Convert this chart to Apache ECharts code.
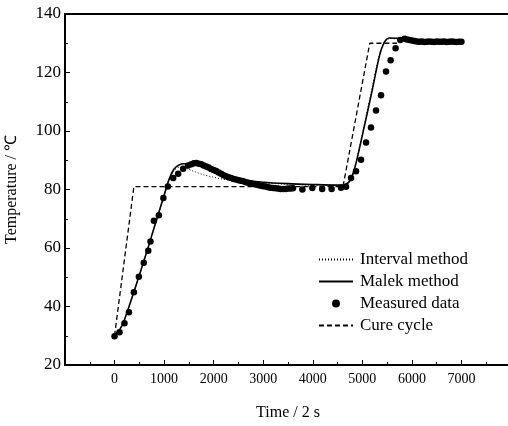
<!DOCTYPE html>
<html>
<head>
<meta charset="utf-8">
<script src="https://cdn.jsdelivr.net/npm/echarts@6/dist/echarts.min.js"></script>
<style>
  html, body { margin: 0; padding: 0; background: #fff; }
  #chart { width: 508px; height: 426px; }
</style>
</head>
<body>
<div id="chart"></div>
<script>
// Time axis (units of 2 s) and temperature readings (°C)
const measuredTime = [
  0, 100, 200, 290, 390, 490, 590, 680, 725, 793, 894, 985, 1075, 1183, 1284, 1385, 1485,
  1550, 1600, 1650, 1700, 1750, 1800, 1850, 1900, 1950, 2000, 2050, 2100, 2150, 2200, 2250,
  2300, 2350, 2400, 2450, 2500, 2550, 2600, 2650, 2700, 2750, 2800, 2850, 2900, 2950, 3000,
  3050, 3100, 3150, 3200, 3250, 3300, 3350, 3400, 3450, 3500, 3550, 3600,
  3790, 3990, 4190, 4380, 4570, 4671, 4772, 4873, 4974, 5075, 5175, 5276, 5377, 5478, 5571,
  5671, 5766, 5853,
  5900, 5950, 6000, 6050, 6100, 6150, 6200, 6250, 6300, 6350, 6400, 6450, 6500, 6550, 6600,
  6650, 6700, 6750, 6800, 6850, 6900, 6950, 7000
];
const measuredTemp = [
  29.8, 31.2, 34.3, 38.0, 44.9, 50.2, 55.0, 59.1, 62.2, 69.3, 71.2, 77.1, 81.0, 83.9, 85.4, 87.1, 88.2,
  88.6, 89.0, 89.1, 88.8, 88.6, 88.2, 87.9, 87.5, 87.0, 86.7, 86.3, 85.8, 85.4, 84.9, 84.5,
  84.2, 83.9, 83.6, 83.4, 83.2, 83.0, 82.8, 82.5, 82.3, 82.1, 81.9, 81.7, 81.5, 81.3, 81.1,
  81.0, 80.8, 80.6, 80.5, 80.4, 80.3, 80.2, 80.2, 80.2, 80.3, 80.3, 80.4,
  80.0, 80.5, 80.2, 80.2, 80.6, 80.9, 83.9, 86.2, 90.2, 96.1, 101.2, 107.0, 112.2, 120.3, 124.2,
  128.3, 131.1, 131.5,
  131.3, 131.1, 130.9, 130.8, 130.6, 130.5, 130.6, 130.4, 130.5, 130.6, 130.5, 130.4, 130.6, 130.5, 130.5,
  130.6, 130.4, 130.5, 130.6, 130.5, 130.4, 130.5, 130.5
];

const malekTime = [0, 100, 200, 400, 600, 800, 1000, 1100, 1200, 1300, 1400, 1600, 1800, 2000, 2200,
  2500, 3000, 3500, 4000, 4500, 4650, 4750, 4850, 5000, 5200, 5350, 5450, 5550, 5700, 5850, 6000, 7000];
const malekTemp = [30.5, 32.0, 35.5, 45.5, 56.0, 67.0, 78.0, 83.5, 87.0, 88.4, 88.8, 88.8, 88.0, 86.6, 85.0,
  83.5, 82.5, 82.0, 81.7, 81.5, 81.7, 83.0, 87.5, 98.5, 114.0, 126.0, 130.5, 131.8, 131.7, 131.2, 130.8, 130.5];

const intervalTime = [0, 100, 200, 400, 600, 800, 1000, 1100, 1200, 1300, 1400, 1600, 1800, 2000, 2200,
  2500, 3000, 3500, 4000, 4600, 4700, 4800, 5000, 5200, 5350, 5450, 5550, 5700, 5850, 6000, 7000];
const intervalTemp = [30.5, 32.0, 35.5, 45.5, 56.0, 67.0, 78.0, 83.0, 86.4, 87.6, 87.5, 86.2, 85.0, 84.2, 83.5,
  83.0, 82.2, 81.8, 81.5, 81.4, 82.0, 84.5, 99.0, 115.0, 126.5, 130.7, 131.6, 131.5, 131.1, 130.8, 130.5];

const cureTime = [0, 390, 4610, 5150, 5700];
const cureTemp = [30.0, 81.0, 81.0, 130.0, 130.0];

const xTicks = { min: -1000, max: 8000, step: 1000 };
const yTicks = { min: 20, max: 140, step: 20 };

const zip = (xs, ys) => xs.map((x, i) => [x, ys[i]]);
const serif = 'Liberation Serif';
const hiddenSymbol = { opacity: 0 };

const chart = echarts.init(document.getElementById('chart'), null, { renderer: 'canvas' });
chart.setOption({
  animation: false,
  backgroundColor: '#ffffff',
  textStyle: { fontFamily: serif, color: '#000' },
  grid: {
    left: 65, top: 14, right: -3, bottom: 61,
    containLabel: false, outerBoundsMode: 'none',
    show: true, borderColor: '#000', borderWidth: 2, backgroundColor: 'transparent'
  },
  legend: {
    orient: 'vertical',
    left: 318, top: 251, padding: 0,
    itemWidth: 34, itemHeight: 8, itemGap: 5,
    textStyle: { fontFamily: serif, fontSize: 17, color: '#000', padding: [0, 0, 0, 2] },
    data: [
      { name: 'Interval method', itemStyle: hiddenSymbol },
      { name: 'Malek method', itemStyle: hiddenSymbol },
      { name: 'Measured data', icon: 'circle', itemStyle: { color: '#000' } },
      { name: 'Cure cycle', itemStyle: hiddenSymbol }
    ]
  },
  xAxis: {
    type: 'value',
    min: xTicks.min, max: xTicks.max, interval: xTicks.step,
    name: 'Time / 2 s',
    nameLocation: 'middle', nameGap: 40,
    nameTextStyle: { fontFamily: serif, fontSize: 16, color: '#000' },
    axisLine: { show: true, onZero: false, lineStyle: { color: '#000', width: 2 } },
    axisTick: { show: true, inside: true, length: 5, lineStyle: { color: '#000', width: 1 } },
    minorTick: { show: true, splitNumber: 2, length: 3, lineStyle: { color: '#000', width: 1 } },
    splitLine: { show: false },
    axisLabel: {
      fontFamily: serif, fontSize: 14, color: '#000', margin: 7,
      formatter: v => (v < 0 || v > 7000) ? '' : String(v)
    }
  },
  yAxis: {
    type: 'value',
    min: yTicks.min, max: yTicks.max, interval: yTicks.step,
    name: 'Temperature / ℃',
    nameLocation: 'middle', nameGap: 45,
    nameTextStyle: { fontFamily: serif, fontSize: 16, color: '#000' },
    axisLine: { show: true, onZero: false, lineStyle: { color: '#000', width: 2 } },
    axisTick: { show: true, inside: true, length: 5, lineStyle: { color: '#000', width: 1 } },
    minorTick: { show: true, splitNumber: 2, length: 3, lineStyle: { color: '#000', width: 1 } },
    splitLine: { show: false },
    axisLabel: { fontFamily: serif, fontSize: 17, color: '#000', margin: 4 }
  },
  series: [
    {
      name: 'Interval method', type: 'line', data: zip(intervalTime, intervalTemp),
      symbol: 'none', smooth: 0.3, z: 2,
      lineStyle: { color: '#000', width: 1, type: [1, 2] },
      itemStyle: { color: '#000' }
    },
    {
      name: 'Malek method', type: 'line', data: zip(malekTime, malekTemp),
      symbol: 'none', smooth: 0.3, z: 3,
      lineStyle: { color: '#000', width: 1.6, type: 'solid' },
      itemStyle: { color: '#000' }
    },
    {
      name: 'Measured data', type: 'scatter', data: zip(measuredTime, measuredTemp),
      symbol: 'circle', symbolSize: 6.5, z: 4,
      itemStyle: { color: '#000', opacity: 1 }
    },
    {
      name: 'Cure cycle', type: 'line', data: zip(cureTime, cureTemp),
      symbol: 'none', z: 1,
      lineStyle: { color: '#000', width: 1.3, type: [5, 3] },
      itemStyle: { color: '#000' }
    }
  ]
});
</script>
</body>
</html>
